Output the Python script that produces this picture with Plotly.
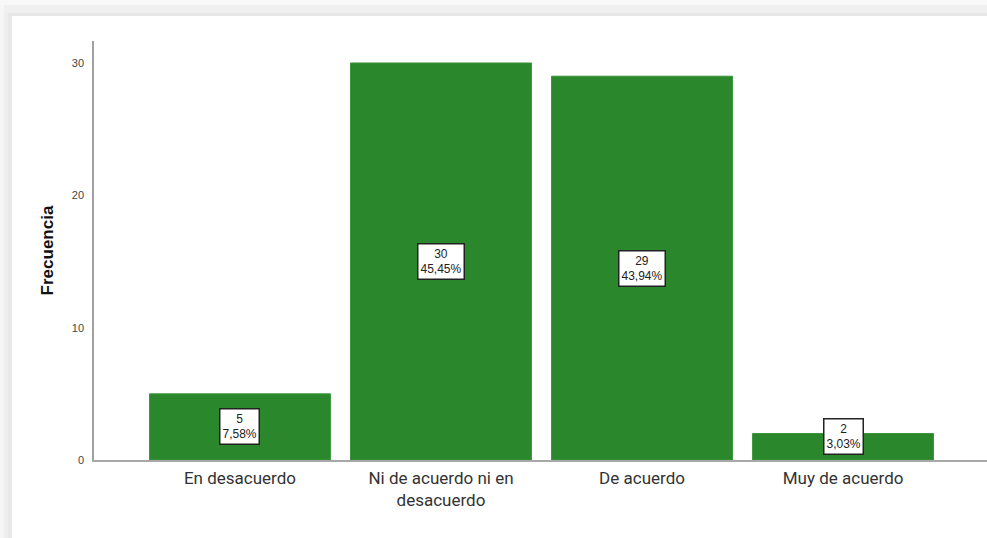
import plotly.graph_objects as go

categories = ["En desacuerdo", "Ni de acuerdo ni en<br>desacuerdo", "De acuerdo", "Muy de acuerdo"]
frequencies = [5, 30, 29, 2]
percent_labels = ["7,58%", "45,45%", "43,94%", "3,03%"]
y_tick_values = [0, 10, 20, 30]
y_tick_labels = ["0", "10", "20", "30"]

W, H = 987, 538
L, R, T, B = 94, 0, 41, 78
pw, ph = W - L - R, H - T - B

def px_x(x):
    return (x - L) / pw

def px_y(y):
    return (H - B - y) / ph

fig = go.Figure()
fig.add_trace(go.Bar(
    x=list(range(len(categories))),
    y=frequencies,
    width=0.9,
    marker=dict(color="#2b872b", line=dict(color="#3c963c", width=1)),
    hoverinfo="skip",
))

annotations = []
for i, (v, p) in enumerate(zip(frequencies, percent_labels)):
    annotations.append(dict(
        x=i, y=max(v / 2, 1.75), xref="x", yref="y",
        text=f"{v}<br>{p}", showarrow=False,
        font=dict(family="Liberation Sans, Arial", size=12, color="#222222"),
        bgcolor="white", bordercolor="#222222", borderwidth=1.5, borderpad=2,
        align="center",
    ))

shapes = [
    dict(type="rect", xref="paper", yref="paper", x0=px_x(0), x1=px_x(W), y0=px_y(0), y1=px_y(5),
         fillcolor="#f8f8f8", line=dict(width=0), layer="below"),
    dict(type="rect", xref="paper", yref="paper", x0=px_x(0), x1=px_x(W), y0=px_y(5), y1=px_y(13),
         fillcolor="#f0f0f0", line=dict(width=0), layer="below"),
    dict(type="rect", xref="paper", yref="paper", x0=px_x(6), x1=px_x(W), y0=px_y(13), y1=px_y(16),
         fillcolor="#e8e8e8", line=dict(width=0), layer="below"),
    dict(type="rect", xref="paper", yref="paper", x0=px_x(0), x1=px_x(4), y0=px_y(5), y1=px_y(H),
         fillcolor="#f6f6f6", line=dict(width=0), layer="below"),
    dict(type="rect", xref="paper", yref="paper", x0=px_x(4), x1=px_x(8), y0=px_y(13), y1=px_y(H),
         fillcolor="#eeeeee", line=dict(width=0), layer="below"),
    dict(type="rect", xref="paper", yref="paper", x0=px_x(8), x1=px_x(12), y0=px_y(16), y1=px_y(H),
         fillcolor="#e8e8e8", line=dict(width=0), layer="below"),
]

fig.update_layout(
    width=W, height=H,
    margin=dict(l=L, r=R, t=T, b=B, pad=0),
    paper_bgcolor="white", plot_bgcolor="white",
    showlegend=False,
    bargap=0.1,
    annotations=annotations,
    shapes=shapes,
    font=dict(family="Liberation Sans, Arial"),
)
fig.update_xaxes(
    range=[-0.726, 3.716],
    tickmode="array", tickvals=list(range(len(categories))), ticktext=categories,
    showgrid=False, zeroline=False,
    showline=True, linecolor="#a8a8a8", linewidth=1.5,
    ticks="", ticklabelstandoff=2,
    tickfont=dict(family="Roboto, Liberation Sans, Arial", size=17, color="#333333"),
)
fig.update_yaxes(
    range=[0, 31.66],
    tickmode="array", tickvals=y_tick_values, ticktext=y_tick_labels,
    showgrid=False, zeroline=False,
    showline=True, linecolor="#a0a0a0", linewidth=1.5,
    ticks="", ticklabelstandoff=6,
    tickfont=dict(family="Liberation Sans, Arial", size=11, color="#444444"),
    title=dict(text="<b>Frecuencia</b>", standoff=14,
               font=dict(family="Liberation Sans, Arial", size=17, color="#111111")),
)

fig.write_html(
    "out.html",
    config={"displayModeBar": False},
    post_script="document.body.style.margin='0';document.body.style.overflow='hidden';",
)
